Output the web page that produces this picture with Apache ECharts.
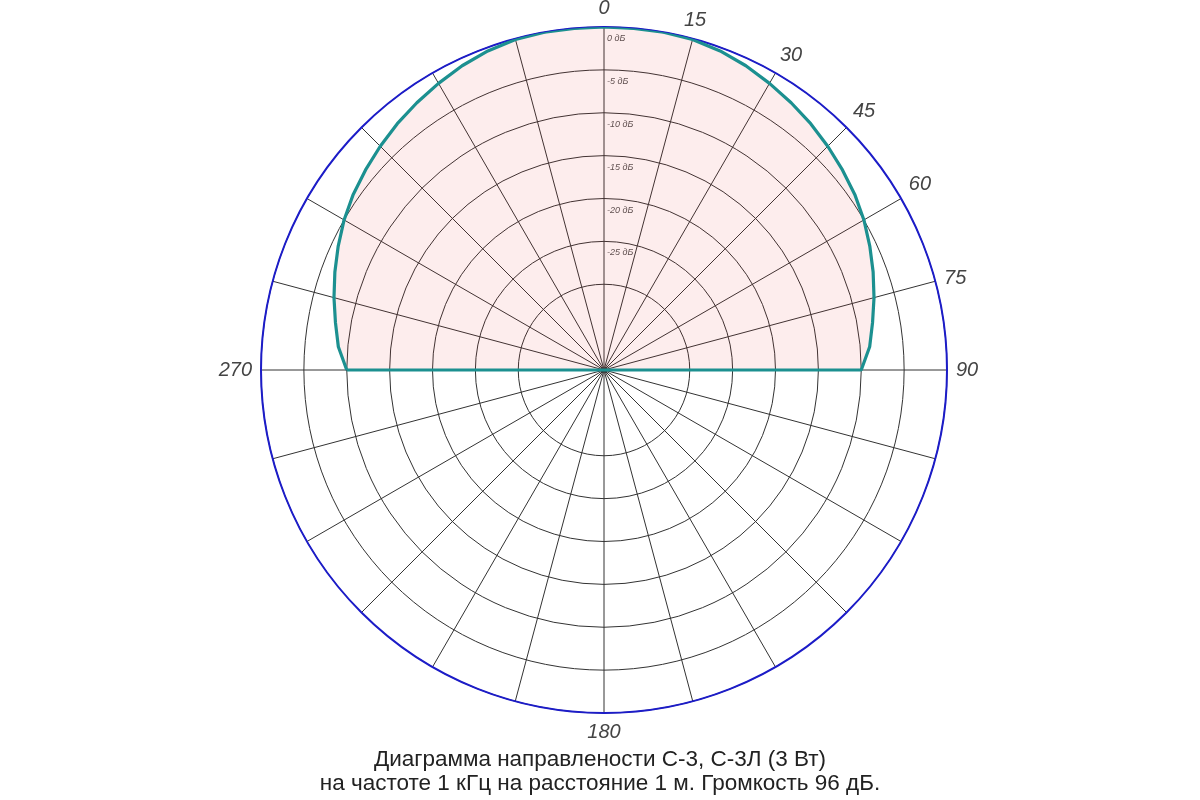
<!DOCTYPE html>
<html>
<head>
<meta charset="utf-8">
<title>Диаграмма направлености С-3, С-3Л</title>
<script src="https://cdn.jsdelivr.net/npm/echarts@6/dist/echarts.min.js"></script>
<style>
  html, body { margin: 0; padding: 0; background: #fff; }
  #chart { width: 1200px; height: 800px; }
</style>
</head>
<body>
<div id="chart"></div>
<script>
// front half of the pattern (degrees, dB)
const angles = [270, 275, 280, 285, 290, 295, 300, 305, 310, 315, 320, 325, 330, 335, 340, 345, 350, 355,
  0, 5, 10, 15, 20, 25, 30, 35, 40, 45, 50, 55, 60, 65, 70, 75, 80, 85, 90];
const levels = [-10, -8.9, -8.2, -7.4, -6.6, -5.8, -5, -4.3, -3.7, -3.1, -2.5, -1.95, -1.4, -0.85, -0.4, -0.1, 0, 0,
  0, 0, 0, -0.1, -0.4, -0.85, -1.4, -1.95, -2.5, -3.1, -3.7, -4.3, -5, -5.8, -6.6, -7.4, -8.2, -8.9, -10];

const angleLabels = [0, 15, 30, 45, 60, 75, 90, 180, 270];
const levelLabels = [0, -5, -10, -15, -20, -25];

const titleLines = [
  'Диаграмма направлености С-3, С-3Л (3 Вт)',
  'на частоте 1 кГц на расстояние 1 м. Громкость 96 дБ.'
];

const chart = echarts.init(document.getElementById('chart'));

// closed contour: curve over the front, then back across the diameter
const pattern = angles.map((a, i) => [levels[i], a]);
pattern.push(pattern[0]);

const titleFont = { fontFamily: 'Liberation Sans', fontSize: 22.5, fontWeight: 'normal', color: '#222' };

const option = {
  animation: false,
  backgroundColor: '#fff',
  title: [
    { text: titleLines[0], left: 'center', top: 743, textStyle: titleFont },
    { text: titleLines[1], left: 'center', top: 767, textStyle: titleFont }
  ],
  polar: {
    center: [604, 370],
    radius: 343
  },
  angleAxis: {
    type: 'value',
    min: 0,
    max: 360,
    interval: 15,
    startAngle: 90,
    clockwise: true,
    axisLine: { show: true, lineStyle: { color: '#1c1cc8', width: 2 } },
    axisTick: { show: false },
    splitLine: { show: true, lineStyle: { color: '#333', width: 1 } },
    axisLabel: {
      margin: 9,
      fontFamily: 'Liberation Sans',
      fontStyle: 'italic',
      fontSize: 20,
      color: '#444',
      formatter: (v) => (angleLabels.includes(v) ? String(v) : '')
    }
  },
  radiusAxis: {
    type: 'value',
    min: -40,
    max: 0,
    interval: 5,
    axisLine: { show: false },
    axisTick: { show: false },
    splitLine: {
      show: true,
      lineStyle: {
        color: ['transparent', 'transparent', '#333', '#333', '#333', '#333', '#333', '#333', '#333'],
        width: 1
      }
    },
    axisLabel: {
      margin: -3,
      align: 'left',
      verticalAlign: 'top',
      padding: [7, 0, 0, 0],
      fontFamily: 'Liberation Sans',
      fontStyle: 'italic',
      fontSize: 9,
      color: '#555',
      formatter: (v) => (levelLabels.includes(v) ? v + ' дБ' : '')
    }
  },
  series: [
    {
      type: 'line',
      coordinateSystem: 'polar',
      data: pattern,
      symbol: 'none',
      smooth: false,
      z: 3,
      lineStyle: { color: '#1c9090', width: 3.2 },
      areaStyle: { color: 'rgba(230, 50, 50, 0.13)', origin: 'start' }
    }
  ]
};

chart.setOption(option);
</script>
</body>
</html>
